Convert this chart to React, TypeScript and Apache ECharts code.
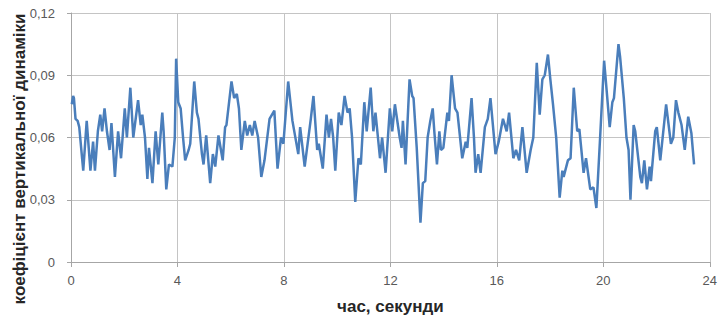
import React, { useEffect, useRef } from "react";
import * as echarts from "echarts";

// time, seconds
const timeSec = [
  // 0 – 3 s
  0.03, 0.08, 0.11, 0.17, 0.25, 0.31, 0.46, 0.59, 0.73, 0.83, 0.90, 1.01, 1.10, 1.17, 1.26,
  1.35, 1.45, 1.52, 1.65, 1.77, 1.88, 2.02, 2.10, 2.23, 2.34, 2.52, 2.62, 2.68, 2.78, 2.87,
  // 3 – 6 s
  2.93, 3.06, 3.18, 3.28, 3.43, 3.48, 3.58, 3.68, 3.81, 3.90, 3.95, 4.03, 4.12, 4.21, 4.29,
  4.42, 4.48, 4.63, 4.73, 4.79, 4.92, 4.98, 5.08, 5.23, 5.33, 5.42, 5.54, 5.70, 5.79, 5.84,
  // 6 – 9 s
  6.03, 6.13, 6.23, 6.31, 6.40, 6.53, 6.62, 6.72, 6.81, 6.90, 7.03, 7.15, 7.27, 7.46, 7.64,
  7.76, 7.89, 7.98, 8.16, 8.32, 8.54, 8.61, 8.78, 9.01, 9.11,
  // 9 – 12 s
  9.25, 9.31, 9.46, 9.60, 9.69, 9.77, 9.85, 9.93, 10.06, 10.16, 10.28, 10.39, 10.47, 10.56, 10.68,
  10.80, 10.89, 11.02, 11.11, 11.26, 11.36, 11.44, 11.61, 11.69, 11.82, 11.98, 12.07, 12.17, 12.35,
  // 12 – 15.5 s
  12.42, 12.47, 12.57, 12.72, 12.82, 12.87, 12.99, 13.13, 13.22, 13.31, 13.40, 13.50, 13.59, 13.65, 13.75, 13.84,
  13.90, 13.99, 14.14, 14.20, 14.30, 14.43, 14.52, 14.70, 14.83, 14.89, 15.05, 15.14, 15.20, 15.30, 15.39, 15.55,
  // 15.5 – 18.7 s
  15.66, 15.76, 15.95, 16.07, 16.23, 16.37, 16.46, 16.62, 16.72, 16.84, 16.96, 17.12, 17.27,
  17.37, 17.50, 17.61, 17.71, 17.80, 17.92, 18.01, 18.11, 18.23, 18.36, 18.46, 18.51, 18.67,
  // 18.7 – 21.7 s
  18.77, 18.89, 19.02, 19.10, 19.26, 19.35, 19.51, 19.63, 19.74, 19.88, 20.03, 20.13, 20.24, 20.34,
  20.40, 20.57, 20.63, 20.77, 20.87, 20.95, 21.02, 21.14, 21.20, 21.39, 21.45, 21.54, 21.64,
  // 21.7 – 23.4 s
  21.74, 21.79, 21.95, 22.01, 22.14, 22.36, 22.54, 22.63, 22.73, 22.82, 22.94, 23.06, 23.19, 23.31, 23.41,
];

// coefficient of vertical dynamics
const coefficient = [
  // 0 – 3 s
  0.076, 0.080, 0.079, 0.069, 0.068, 0.065, 0.044, 0.068, 0.044, 0.058, 0.044, 0.063, 0.071, 0.063, 0.074,
  0.063, 0.054, 0.067, 0.041, 0.063, 0.050, 0.074, 0.060, 0.084, 0.060, 0.078, 0.066, 0.071, 0.060, 0.040,
  // 3 – 6 s
  0.055, 0.038, 0.063, 0.047, 0.072, 0.063, 0.035, 0.047, 0.046, 0.060, 0.098, 0.077, 0.074, 0.060, 0.049,
  0.054, 0.057, 0.087, 0.072, 0.069, 0.052, 0.047, 0.061, 0.038, 0.052, 0.046, 0.061, 0.049, 0.065, 0.066,
  // 6 – 9 s
  0.087, 0.079, 0.081, 0.074, 0.054, 0.068, 0.061, 0.066, 0.061, 0.068, 0.060, 0.041, 0.049, 0.069, 0.073,
  0.045, 0.060, 0.057, 0.087, 0.068, 0.052, 0.065, 0.046, 0.069, 0.080,
  // 9 – 12 s
  0.054, 0.057, 0.045, 0.071, 0.060, 0.069, 0.060, 0.044, 0.072, 0.066, 0.080, 0.072, 0.074, 0.060, 0.029,
  0.050, 0.047, 0.077, 0.063, 0.084, 0.063, 0.072, 0.050, 0.060, 0.043, 0.074, 0.063, 0.076, 0.060,
  // 12 – 15.5 s
  0.055, 0.068, 0.047, 0.088, 0.080, 0.079, 0.055, 0.019, 0.038, 0.039, 0.060, 0.068, 0.074, 0.063, 0.047, 0.063,
  0.054, 0.055, 0.072, 0.068, 0.090, 0.074, 0.072, 0.050, 0.058, 0.055, 0.079, 0.060, 0.043, 0.052, 0.043, 0.065,
  // 15.5 – 18.7 s
  0.069, 0.079, 0.052, 0.058, 0.069, 0.063, 0.072, 0.050, 0.054, 0.049, 0.065, 0.043, 0.054,
  0.060, 0.096, 0.071, 0.088, 0.090, 0.100, 0.088, 0.076, 0.060, 0.031, 0.044, 0.041, 0.049,
  // 18.7 – 21.7 s
  0.050, 0.084, 0.063, 0.064, 0.043, 0.050, 0.035, 0.036, 0.026, 0.060, 0.097, 0.082, 0.065, 0.077,
  0.079, 0.105, 0.099, 0.079, 0.060, 0.054, 0.030, 0.066, 0.063, 0.041, 0.038, 0.049, 0.035,
  // 21.7 – 23.4 s
  0.046, 0.039, 0.063, 0.065, 0.049, 0.076, 0.057, 0.060, 0.078, 0.072, 0.066, 0.054, 0.070, 0.062, 0.047,
];

const xTitle = "час, секунди";
const yTitle = "коефіцієнт вертикальної динаміки";

export default function App() {
  const ref = useRef<HTMLDivElement>(null);

  useEffect(() => {
    document.body.style.margin = "0";
    if (!ref.current) return;
    const chart = echarts.init(ref.current, null, { renderer: "svg" });
    const n = Math.min(timeSec.length, coefficient.length);
    const data: [number, number][] = [];
    for (let i = 0; i < n; i++) data.push([timeSec[i], coefficient[i]]);

    const tickFont = {
      color: "#595959",
      fontSize: 13,
      fontFamily: "'Liberation Sans', Arial, sans-serif",
    };

    chart.setOption({
      animation: false,
      backgroundColor: "#ffffff",
      grid: { left: 71, right: 5, top: 13, bottom: 53, containLabel: false },
      xAxis: {
        type: "value",
        min: 0,
        max: 24,
        interval: 4,
        name: xTitle,
        nameLocation: "middle",
        nameGap: 36,
        nameTextStyle: {
          color: "#262626",
          fontSize: 17,
          fontWeight: "bold",
          fontFamily: "'Liberation Sans', Arial, sans-serif",
        },
        axisLine: { show: true, lineStyle: { color: "#a6a6a6", width: 1 } },
        axisTick: { show: true, length: 5, lineStyle: { color: "#a6a6a6" } },
        axisLabel: { ...tickFont, margin: 12 },
        splitLine: { show: true, lineStyle: { color: "#c4c4c4", width: 1 } },
      },
      yAxis: {
        type: "value",
        min: 0,
        max: 0.12,
        interval: 0.03,
        axisLine: { show: true, lineStyle: { color: "#a6a6a6", width: 1 } },
        axisTick: { show: true, length: 4, lineStyle: { color: "#a6a6a6" } },
        axisLabel: {
          ...tickFont,
          margin: 16,
          formatter: (v: number) => (v === 0 ? "0" : v.toFixed(2).replace(".", ",")),
        },
        splitLine: { show: true, lineStyle: { color: "#c4c4c4", width: 1 } },
      },
      graphic: [
        {
          type: "text",
          x: 19,
          y: 159,
          rotation: Math.PI / 2,
          style: {
            text: yTitle,
            fill: "#262626",
            fontSize: 17,
            fontWeight: "bold",
            fontFamily: "'Liberation Sans', Arial, sans-serif",
            textAlign: "center",
            textVerticalAlign: "middle",
          },
        },
      ],
      series: [
        {
          type: "line",
          data,
          showSymbol: false,
          smooth: false,
          lineStyle: { color: "#4a7ebb", width: 2.5 },
          itemStyle: { color: "#4a7ebb" },
        },
      ],
    });
    return () => chart.dispose();
  }, []);

  return <div ref={ref} style={{ width: 720, height: 320 }} />;
}
